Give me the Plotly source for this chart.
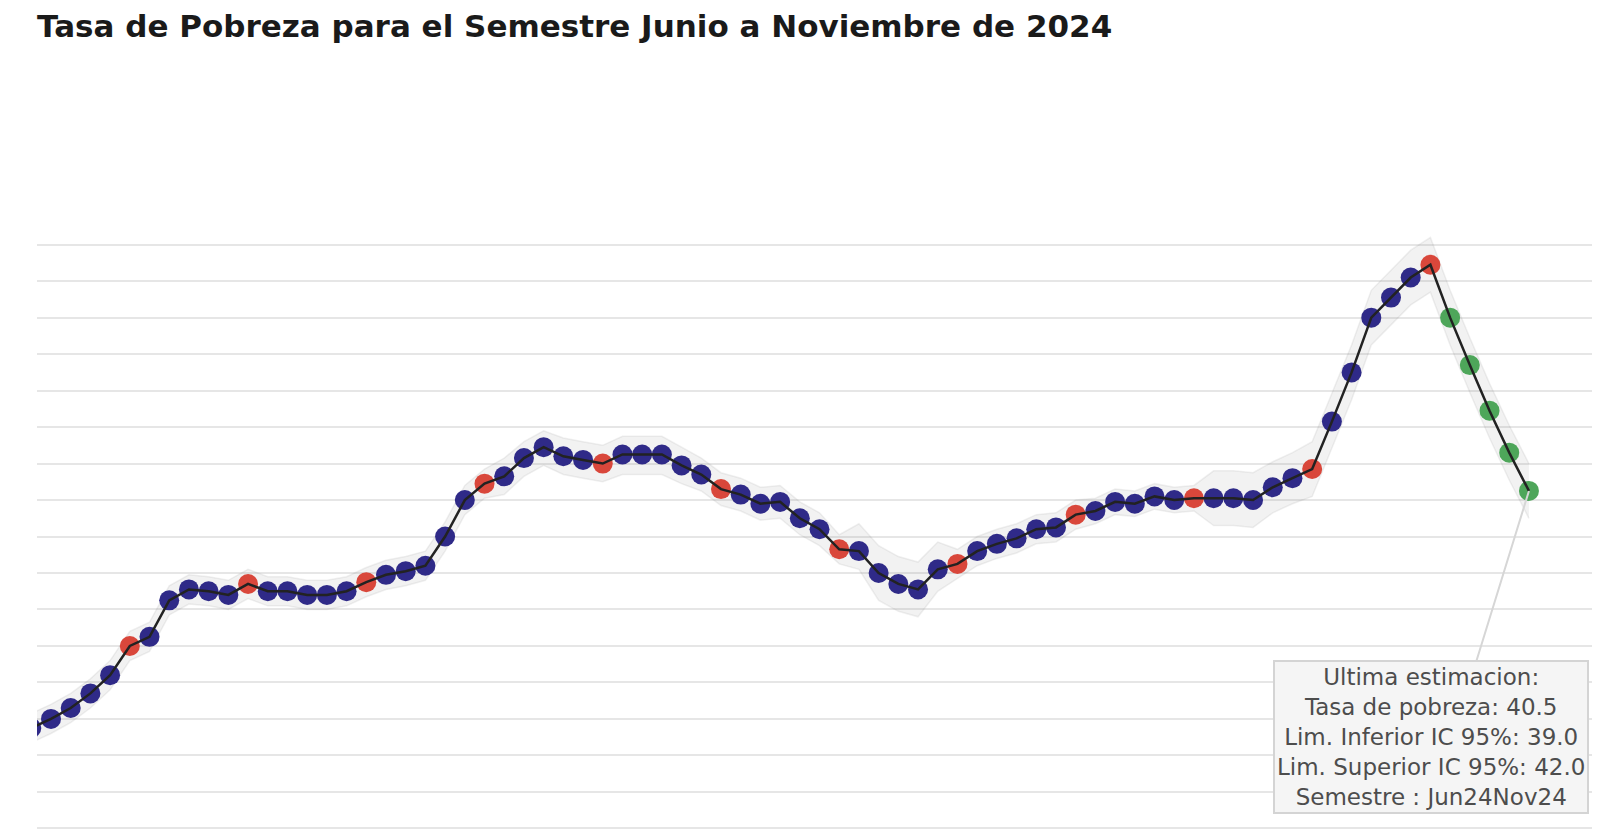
import plotly.graph_objects as go

# Semestres moviles: desde Feb18-Jul18 hasta Jun24-Nov24 (mensual)
meses = ["Jan", "Feb", "Mar", "Apr", "May", "Jun", "Jul", "Aug", "Sep", "Oct", "Nov", "Dec"]


def etiqueta_semestre(anio, mes):
    fin = mes + 5
    anio_fin = anio + fin // 12
    return f"{meses[mes]}{anio % 100:02d}{meses[fin % 12]}{anio_fin % 100:02d}"


semestres = [etiqueta_semestre(2018 + (1 + k) // 12, (1 + k) % 12) for k in range(77)]

# Tasa de pobreza estimada (%)
tasa = [
    27.5, 28.0, 28.6, 29.4, 30.4, 32.0, 32.5, 34.5, 35.1, 35.0,
    34.8, 35.4, 35.0, 35.0, 34.8, 34.8, 35.0, 35.5, 35.9, 36.1,
    36.4, 38.0, 40.0, 40.9, 41.3, 42.3, 42.9, 42.4, 42.2, 42.0,
    42.5, 42.5, 42.5, 41.9, 41.4, 40.6, 40.3, 39.8, 39.9, 39.0,
    38.4, 37.3, 37.2, 36.0, 35.4, 35.1, 36.2, 36.5, 37.2, 37.6,
    37.9, 38.4, 38.5, 39.2, 39.4, 39.9, 39.8, 40.2, 40.0, 40.1,
    40.1, 40.1, 40.0, 40.7, 41.2, 41.7, 44.3, 47.0, 50.0, 51.1,
    52.2, 52.9, 50.0, 47.4, 44.9, 42.6, 40.5,
]

# Limites del intervalo de confianza al 95%
lim_inf = [
    26.7, 27.2, 27.8, 28.6, 29.6, 31.2, 31.7, 33.7, 34.3, 34.2,
    34.0, 34.6, 34.2, 34.2, 34.0, 34.0, 34.2, 34.7, 35.1, 35.3,
    35.6, 37.2, 39.2, 40.1, 40.3, 41.3, 41.9, 41.4, 41.2, 41.0,
    41.4, 41.4, 41.4, 40.9, 40.5, 39.7, 39.4, 38.9, 39.0, 38.1,
    37.5, 36.5, 36.2, 34.5, 33.9, 33.6, 35.0, 35.7, 36.4, 36.8,
    37.1, 37.6, 37.7, 38.4, 38.7, 39.2, 39.1, 39.5, 39.3, 39.4,
    38.6, 38.6, 38.5, 39.3, 39.8, 40.2, 42.8, 45.5, 48.5, 49.6,
    50.7, 51.4, 48.5, 45.9, 43.4, 41.1, 39.0,
]
lim_sup = [
    28.3, 28.8, 29.4, 30.2, 31.2, 32.8, 33.3, 35.3, 35.9, 35.8,
    35.6, 36.2, 35.8, 35.8, 35.6, 35.6, 35.8, 36.3, 36.7, 36.9,
    37.2, 38.8, 40.8, 41.7, 42.3, 43.2, 43.8, 43.4, 43.2, 43.0,
    43.5, 43.5, 43.5, 42.9, 42.3, 41.5, 41.2, 40.7, 40.8, 39.9,
    39.3, 38.1, 38.7, 37.5, 36.9, 36.6, 37.7, 37.3, 38.0, 38.4,
    38.7, 39.2, 39.3, 40.0, 40.1, 40.6, 40.5, 40.9, 40.7, 40.8,
    41.6, 41.6, 41.5, 42.1, 42.6, 43.2, 45.8, 48.5, 51.5, 52.6,
    53.7, 54.4, 51.5, 48.9, 46.4, 44.1, 42.0,
]

# Semestres oficiales (Ene-Jun / Jul-Dic) en rojo, proyecciones posteriores en verde
ultimo_oficial = max(i for i, s in enumerate(semestres) if s[:3] in ("Jan", "Jul"))
colores = []
for i, s in enumerate(semestres):
    if i > ultimo_oficial:
        colores.append("#4ea65a")
    elif s[:3] in ("Jan", "Jul"):
        colores.append("#d9473b")
    else:
        colores.append("#2f2a88")

idx = list(range(len(semestres)))

fig = go.Figure()
fig.add_trace(go.Scatter(
    x=idx, y=lim_inf, mode="lines",
    line=dict(color="rgba(128,128,128,0.12)", width=1.5),
    hoverinfo="skip", showlegend=False,
))
fig.add_trace(go.Scatter(
    x=idx, y=lim_sup, mode="lines", fill="tonexty",
    fillcolor="rgba(128,128,128,0.1)",
    line=dict(color="rgba(128,128,128,0.12)", width=1.5),
    hoverinfo="skip", showlegend=False,
))
fig.add_trace(go.Scatter(
    x=idx, y=tasa, mode="markers",
    marker=dict(color=colores, size=20, line=dict(width=0)),
    customdata=semestres,
    hovertemplate="Semestre: %{customdata}<br>Tasa de pobreza: %{y:.1f}<extra></extra>",
    showlegend=False,
))
fig.add_trace(go.Scatter(
    x=idx, y=tasa, mode="lines",
    line=dict(color="#222222", width=2.5),
    hoverinfo="skip", showlegend=False,
))

texto = (
    "Ultima estimacion:<br>"
    f"Tasa de pobreza: {tasa[-1]:.1f}<br>"
    f"Lim. Inferior IC 95%: {lim_inf[-1]:.1f}<br>"
    f"Lim. Superior IC 95%: {lim_sup[-1]:.1f}<br>"
    f"Semestre : {semestres[-1]}"
)
# flecha hacia el ultimo punto (queda tapada por el recuadro)
fig.add_annotation(
    x=idx[-1], y=tasa[-1], text=" ", showarrow=True,
    arrowhead=0, arrowwidth=2, arrowcolor="#d6d6d6",
    ax=-76, ay=246,
)
# recuadro con la ultima estimacion
fig.add_annotation(
    x=idx[-1], y=tasa[-1], text=texto, showarrow=False,
    xshift=-98, yshift=-246, align="center",
    font=dict(family="DejaVu Sans", size=23, color="#4d4d4d"),
    bgcolor="#f5f5f5", bordercolor="#d4d4d4", borderwidth=2, borderpad=2,
)

# la pagina tiene 8px de margen en el body: figura de 1584x822
fig.update_layout(
    width=1584, height=822,
    paper_bgcolor="white", plot_bgcolor="white",
    margin=dict(l=29, r=0, t=215, b=0),
    title=dict(
        text="Tasa de Pobreza para el Semestre Junio a Noviembre de 2024",
        x=29 / 1584, xanchor="left", xref="container",
        y=1 - 18 / 822, yanchor="middle", yref="container",
        font=dict(family="DejaVu Sans", size=31, color="#1a1a1a", weight=600),
    ),
    xaxis=dict(range=[0.29, 79.2], showgrid=False, zeroline=False,
               showticklabels=False, showline=False),
    yaxis=dict(range=[21.91, 55.19], dtick=2, gridcolor="#e6e6e6", gridwidth=1.5,
               zeroline=False, showticklabels=False, showline=False),
)

fig.write_html("out.html")
